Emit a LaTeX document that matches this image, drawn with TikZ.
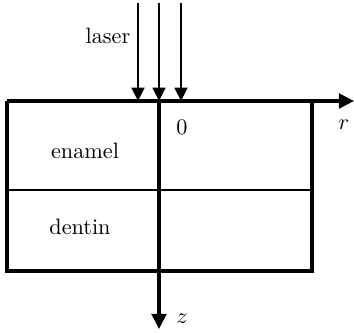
\documentclass[tikz,border=0pt]{standalone}
\usepackage{tikz}
\usetikzlibrary{positioning,arrows.meta}

\begin{document}
\begin{tikzpicture}[
  x=0.45pt, y=-0.45pt,
  axis/.style={line width=1.5pt, -{Triangle[length=6.8pt, width=6.6pt]}},
  beam/.style={line width=0.9pt, -{Triangle[length=6pt, width=5.8pt]}},
  wall/.style={line width=1.5pt},
  lbl/.style={font=\normalsize, inner sep=0pt}]
  \useasboundingbox (0,0) rectangle (354,332);
  % frame of the sample
  \coordinate (tl) at (7,101);
  \coordinate (br) at (312,271);
  \coordinate (O) at (159,101);
  \coordinate (rEnd) at (354,101);
  \coordinate (zEnd) at (159,329);
  \draw[wall] (tl) |- (br) -- (br |- tl);
  \draw[line width=0.6pt] (tl |- 0,190) -- (br |- 0,190);
  % axes
  \draw[axis] (tl) -- (rEnd);
  \draw[axis] (O) -- (zEnd);
  % incoming beams
  \foreach \x in {138,159,181}
    \draw[beam] (\x,3) -- (\x,101);
  % labels
  \node[lbl] (laser) at (108,36) {laser};
  \node[lbl] (zero) at (182,127) {0};
  \node[lbl] (enamel) at (85,151) {enamel};
  \node[lbl] (dentin) at (80,227) {dentin};
  \node[lbl] (r) at (344,125) {$r$};
  \node[lbl] (z) at (182,319) {$z$};
\end{tikzpicture}
\end{document}
